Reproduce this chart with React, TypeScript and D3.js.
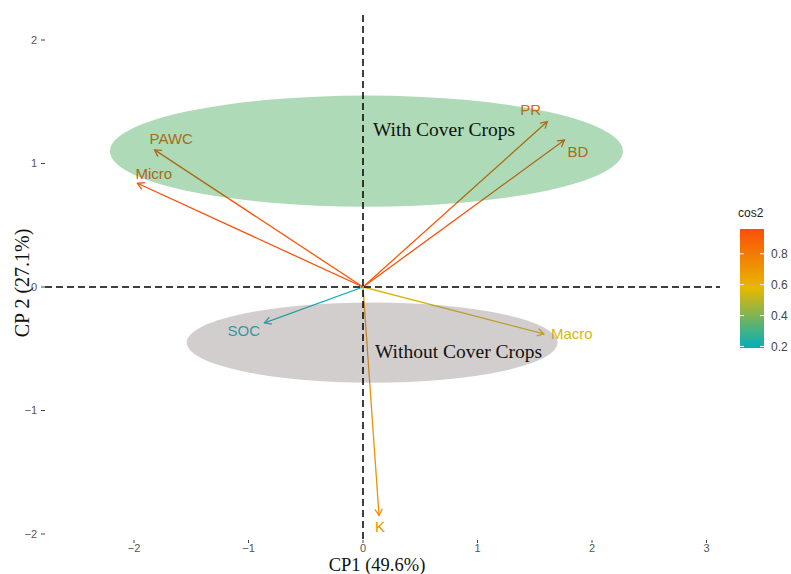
import * as d3 from "d3";

// PCA biplot: variable loadings on CP1 / CP2, coloured by cos2
const VARIABLES = ["PAWC", "Micro", "PR", "BD", "SOC", "Macro", "K"];
const CP1 = [-1.82, -1.97, 1.61, 1.76, -0.86, 1.58, 0.14];
const CP2 = [1.11, 0.84, 1.34, 1.19, -0.29, -0.38, -1.85];
const COS2 = [0.94, 0.96, 0.92, 0.95, 0.19, 0.55, 0.72];

const X_TICKS = [-2, -1, 0, 1, 2, 3];
const Y_TICKS = [-2, -1, 0, 1, 2];
const LEGEND_TICKS = [0.2, 0.4, 0.6, 0.8];

// group ellipses: name, centre x, centre y, radius x, radius y (data units)
const GROUPS = ["With Cover Crops", "Without Cover Crops"];
const GROUP_CX = [0.03, 0.08];
const GROUP_CY = [1.1, -0.45];
const GROUP_RX = [2.24, 1.62];
const GROUP_RY = [0.45, 0.325];
const GROUP_FILL = ["#169432", "#817373"];

// label nudges in px from the arrow tip
const LABEL_NUDGE: Record<string, [number, number]> = {
  PAWC: [-5, -11],
  Micro: [-2, -10],
  PR: [-27, -12],
  BD: [3, 12],
  SOC: [-37, 8],
  Macro: [7, 0],
  K: [-4, 11],
};

const W = 791;
const H = 574;
const PANEL = { left: 45, right: 720, top: 15, bottom: 546 };
const SANS = "'Liberation Sans', Arial, sans-serif";
const SERIF = "'Liberation Serif', 'Times New Roman', serif";

export default function App() {
  const x = d3.scaleLinear().domain([0, 1]).range([363, 477.5]);
  const y = d3.scaleLinear().domain([0, 1]).range([287, 163.5]);

  const cosExtent = d3.extent(COS2) as [number, number];
  const color = d3
    .scaleLinear<string>()
    .domain([cosExtent[0], (cosExtent[0] + cosExtent[1]) / 2, cosExtent[1]])
    .range(["#00AFBB", "#E7B800", "#FC4E07"])
    .interpolate(d3.interpolateRgb);

  const legTop = 229;
  const legBottom = 348;
  const legY = d3.scaleLinear().domain(cosExtent).range([legBottom, legTop]);
  const legX = 740;
  const legW = 24;

  const headLen = 7.5;
  const headAng = Math.PI / 6;
  const fmt = (t: number) => d3.format("")(t).replace("-", "\u2212");

  return (
    <svg width={W} height={H} style={{ position: "absolute", left: 0, top: 0, background: "white" }}>
      <defs>
        <linearGradient id="cosgrad" x1="0" y1="1" x2="0" y2="0">
          {d3.range(0, 1.0001, 0.1).map((t) => (
            <stop key={t} offset={t} stopColor={color(cosExtent[0] + t * (cosExtent[1] - cosExtent[0]))} />
          ))}
        </linearGradient>
      </defs>

      {/* arrows */}
      {VARIABLES.map((v, i) => {
        const x0 = x(0), y0 = y(0);
        const x1 = x(CP1[i]), y1 = y(CP2[i]);
        const a = Math.atan2(y1 - y0, x1 - x0);
        const h1 = [x1 - headLen * Math.cos(a - headAng), y1 - headLen * Math.sin(a - headAng)];
        const h2 = [x1 - headLen * Math.cos(a + headAng), y1 - headLen * Math.sin(a + headAng)];
        const c = color(COS2[i]);
        return (
          <g key={v}>
            <line x1={x0} y1={y0} x2={x1} y2={y1} stroke={c} strokeWidth={1.3} />
            <path d={`M${h1[0]},${h1[1]}L${x1},${y1}L${h2[0]},${h2[1]}`}
              fill="none" stroke={c} strokeWidth={1.3} />
          </g>
        );
      })}

      {/* arrow labels */}
      {VARIABLES.map((v, i) => {
        const [dx, dy] = LABEL_NUDGE[v];
        return (
          <text key={v} x={x(CP1[i]) + dx} y={y(CP2[i]) + dy} dy="0.35em"
            fontSize={15} fontFamily={SANS} fill={color(COS2[i])}>
            {v}
          </text>
        );
      })}

      {/* group ellipses, translucent over the arrows */}
      {GROUPS.map((g, i) => (
        <ellipse key={g}
          cx={x(GROUP_CX[i])} cy={y(GROUP_CY[i])}
          rx={x(GROUP_RX[i]) - x(0)} ry={y(0) - y(GROUP_RY[i])}
          fill={GROUP_FILL[i]} fillOpacity={0.35} />
      ))}

      {/* reference lines */}
      <line x1={PANEL.left} x2={PANEL.right} y1={y(0)} y2={y(0)}
        stroke="#000" strokeWidth={1.5} strokeDasharray="7,4" />
      <line x1={x(0)} x2={x(0)} y1={PANEL.top} y2={PANEL.bottom - 4}
        stroke="#000" strokeWidth={1.5} strokeDasharray="7,4" />

      {/* group labels */}
      <text x={373} y={136} fontSize={19.5} fontFamily={SERIF} fill="#111">{GROUPS[0]}</text>
      <text x={375} y={358} fontSize={19.5} fontFamily={SERIF} fill="#111">{GROUPS[1]}</text>

      {/* x axis */}
      {X_TICKS.map((t) => (
        <g key={t}>
          <line x1={x(t)} x2={x(t)} y1={PANEL.bottom - 6} y2={PANEL.bottom - 3} stroke="#444" strokeWidth={1} />
          <text x={x(t)} y={552} textAnchor="middle" fontSize={11} fontFamily={SANS} fill="#555">
            {fmt(t)}
          </text>
        </g>
      ))}
      <text x={377} y={571} textAnchor="middle" fontSize={18.5} fontFamily={SERIF} fill="#111">CP1 (49.6%)</text>

      {/* y axis */}
      {Y_TICKS.map((t) => (
        <g key={t}>
          <line x1={41} x2={45} y1={y(t)} y2={y(t)} stroke="#444" strokeWidth={1} />
          <text x={37} y={y(t)} dy="0.35em" textAnchor="end" fontSize={11} fontFamily={SANS} fill="#555">
            {fmt(t)}
          </text>
        </g>
      ))}
      <text transform={`translate(29,283) rotate(-90)`} textAnchor="middle" fontSize={20}
        fontFamily={SERIF} fill="#111">CP 2 (27.1%)</text>

      {/* legend */}
      <text x={738} y={217} fontSize={12} fontFamily={SANS} fill="#222">cos2</text>
      <rect x={legX} y={legTop} width={legW} height={legBottom - legTop} fill="url(#cosgrad)" />
      {LEGEND_TICKS.map((t) => (
        <g key={t}>
          <line x1={legX} x2={legX + 4} y1={legY(t)} y2={legY(t)} stroke="#fff" strokeWidth={1} />
          <line x1={legX + legW - 4} x2={legX + legW} y1={legY(t)} y2={legY(t)} stroke="#fff" strokeWidth={1} />
          <text x={legX + legW + 7} y={legY(t)} dy="0.35em" fontSize={12} fontFamily={SANS} fill="#444">
            {t.toFixed(1)}
          </text>
        </g>
      ))}
    </svg>
  );
}
